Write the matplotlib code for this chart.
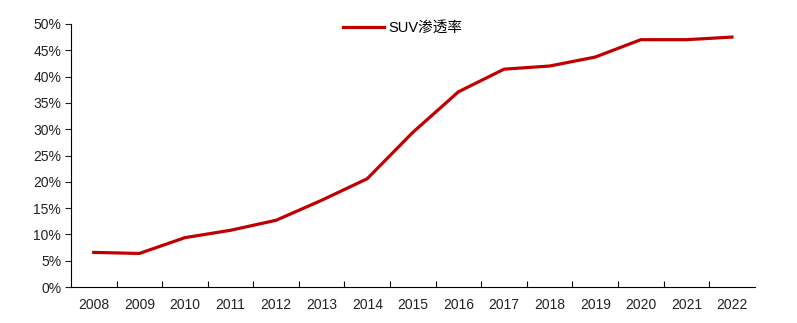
import numpy as np
import matplotlib
matplotlib.use("Agg")
import matplotlib.pyplot as plt
from matplotlib.ticker import FuncFormatter, MultipleLocator, FixedLocator

plt.rcParams['font.family'] = ['Liberation Sans', 'Noto Sans CJK SC', 'DejaVu Sans']

years = ['2008', '2009', '2010', '2011', '2012', '2013', '2014', '2015',
         '2016', '2017', '2018', '2019', '2020', '2021', '2022']
suv_rate = [6.6, 6.4, 9.4, 10.8, 12.7, 16.5, 20.6, 29.4,
            37.1, 41.4, 42.0, 43.7, 47.0, 47.0, 47.5]

fig = plt.figure(figsize=(7.97, 3.23), dpi=100)
ax = fig.add_axes([0.089, 0.111, 0.858, 0.815])

x = np.arange(len(years))
ax.plot(x, np.array(suv_rate) / 100, color='#C00000', linewidth=2.3, label='SUV渗透率')

ax.set_xlim(-0.5, len(years) - 0.5)
ax.set_ylim(0, 0.5)
ax.yaxis.set_major_locator(MultipleLocator(0.05))
ax.yaxis.set_major_formatter(FuncFormatter(lambda v, p: f'{v*100:.0f}%'))

## category labels at centres, tick marks between categories
ax.set_xticks(x)
ax.set_xticklabels(years)
ax.tick_params(axis='x', which='major', length=0, pad=8)
ax.xaxis.set_minor_locator(FixedLocator(x[:-1] + 0.5))
ax.tick_params(axis='x', which='minor', direction='in', length=4, width=0.8)
ax.tick_params(axis='y', direction='out', length=4, width=0.8, pad=3)
ax.tick_params(labelsize=10, colors='#222222')

for s in ['top', 'right']:
    ax.spines[s].set_visible(False)
for s in ['left', 'bottom']:
    ax.spines[s].set_linewidth(0.8)

ax.legend(loc='upper center', bbox_to_anchor=(0.485, 1.06), frameon=False,
          fontsize=10.5, handlelength=2.8, handletextpad=0.3)

fig.savefig('out.png', dpi=100)
